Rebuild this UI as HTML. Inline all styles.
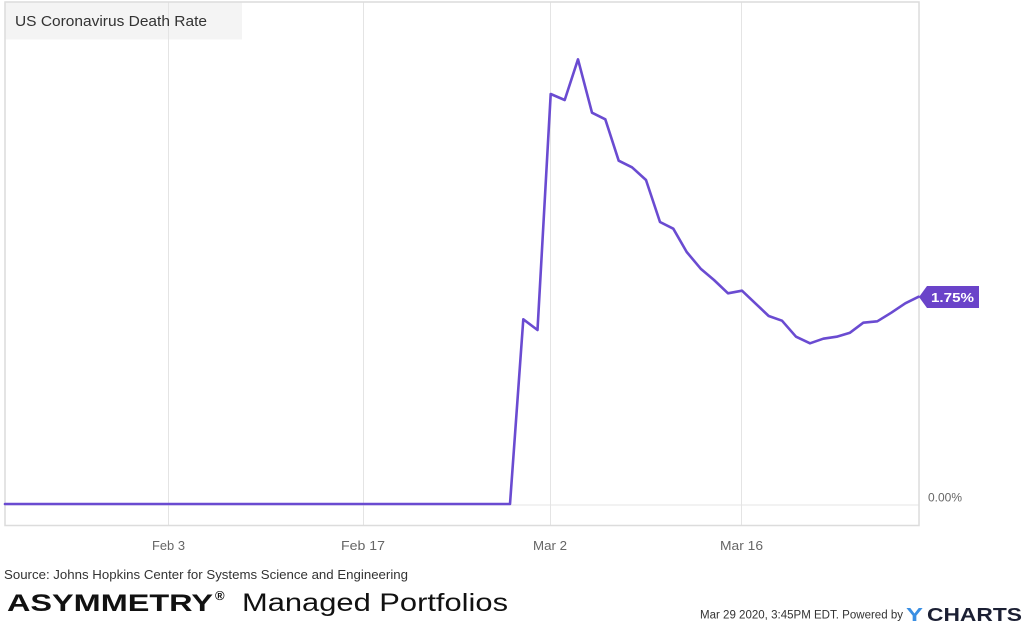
<!DOCTYPE html>
<html>
<head>
<meta charset="utf-8">
<style>
  html,body{margin:0;padding:0;background:#fff;}
  svg{display:block;}
  text{font-family:"Liberation Sans",sans-serif;}
</style>
</head>
<body>
<svg width="1024" height="626" viewBox="0 0 1024 626" xmlns="http://www.w3.org/2000/svg">
  <rect x="0" y="0" width="1024" height="626" fill="#fff"/>
  <!-- title box -->
  <rect x="5" y="2.5" width="237" height="37" fill="#f4f4f4"/>
  <!-- gridlines -->
  <g stroke="#e4e4e4" stroke-width="1">
    <line x1="168.5" y1="2" x2="168.5" y2="525"/>
    <line x1="363.5" y1="2" x2="363.5" y2="525"/>
    <line x1="550.5" y1="2" x2="550.5" y2="525"/>
    <line x1="741.5" y1="2" x2="741.5" y2="525"/>
    <line x1="5" y1="505" x2="919" y2="505"/>
  </g>
  <!-- frame -->
  <rect x="5" y="2" width="914" height="523.5" fill="none" stroke="#dcdcdc" stroke-width="1.5"/>
  <!-- title text -->
  <text x="15" y="26" font-size="14.5" fill="#333" textLength="192" lengthAdjust="spacingAndGlyphs">US Coronavirus Death Rate</text>
  <!-- series -->
  <polyline fill="none" stroke="#6a4bd1" stroke-width="2.6" stroke-linejoin="round" stroke-linecap="round"
    points="5,504 510,504 523.3,319.3 537.5,330 550.7,94 564.7,100 578,59.3 592,112.7 605.3,119.3 618.7,160.7 632,167.3 646,180 660,222 673.3,228.7 686.7,252 700.7,268.7 714,280 728,293.3 742,290.7 755.3,303.3 768.7,316 782,320.7 796,336.7 810,343.3 823.3,338.7 836.7,336.7 850,332.7 863.3,322.7 877.3,321.3 891.3,312.7 905.3,303.3 918.7,296.7"/>
  <!-- value label -->
  <polygon points="919,297 927,286 979,286 979,308 927,308" fill="#6a43c9"/>
  <text x="931" y="302" font-size="12.5" font-weight="bold" fill="#fff" textLength="43" lengthAdjust="spacingAndGlyphs">1.75%</text>
  <!-- y axis label -->
  <text x="928" y="501.5" font-size="12" fill="#666" textLength="34" lengthAdjust="spacingAndGlyphs">0.00%</text>
  <!-- x labels -->
  <g font-size="12.5" fill="#666">
    <text x="152" y="550" textLength="33" lengthAdjust="spacingAndGlyphs">Feb 3</text>
    <text x="341" y="550" textLength="44" lengthAdjust="spacingAndGlyphs">Feb 17</text>
    <text x="533" y="550" textLength="34" lengthAdjust="spacingAndGlyphs">Mar 2</text>
    <text x="720" y="550" textLength="43" lengthAdjust="spacingAndGlyphs">Mar 16</text>
  </g>
  <!-- source -->
  <text x="4" y="579" font-size="12.5" fill="#333" textLength="404" lengthAdjust="spacingAndGlyphs">Source: Johns Hopkins Center for Systems Science and Engineering</text>
  <!-- branding -->
  <text x="7" y="611" font-size="24" font-weight="bold" fill="#111" textLength="206" lengthAdjust="spacingAndGlyphs">ASYMMETRY</text>
  <text x="215" y="600" font-size="13" font-weight="bold" fill="#111">®</text>
  <text x="242" y="611" font-size="25" fill="#111" textLength="266" lengthAdjust="spacingAndGlyphs">Managed Portfolios</text>
  <!-- footer right -->
  <text x="700" y="618.5" font-size="11.5" fill="#333" textLength="203" lengthAdjust="spacingAndGlyphs">Mar 29 2020, 3:45PM EDT.  Powered by</text>
  <text x="906" y="621" font-size="18" font-weight="bold" fill="#3a8fe3" textLength="17" lengthAdjust="spacingAndGlyphs">Y</text>
  <text x="927" y="621" font-size="18" font-weight="bold" fill="#1b1f33" textLength="95" lengthAdjust="spacingAndGlyphs">CHARTS</text>
</svg>
</body>
</html>
